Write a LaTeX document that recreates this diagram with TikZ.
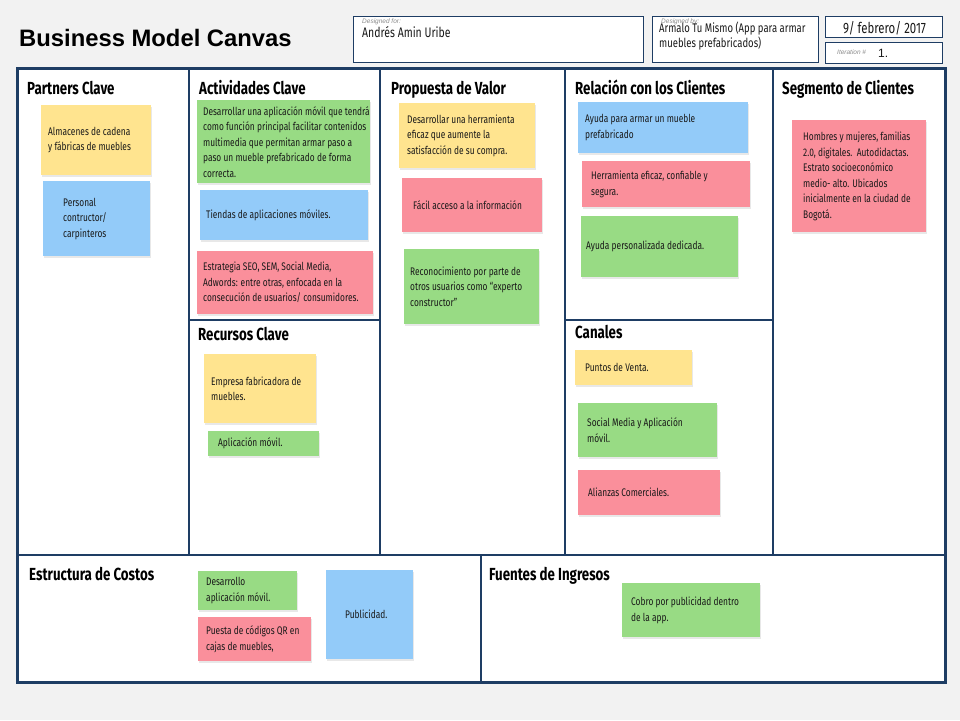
\documentclass[tikz,border=0pt]{standalone}
\usepackage{fontspec}
\usepackage{xcolor}
\usepackage{tikz}
\usetikzlibrary{shadows}
\newfontfamily\arialfont{Liberation Sans}
\newfontfamily\notefont{Fira Sans}[FakeStretch=0.76]
\newfontfamily\headfont{Fira Sans}[FakeStretch=0.76]
\definecolor{canvasblue}{HTML}{1E3D64}
\definecolor{pagegray}{HTML}{F2F2F2}
\definecolor{noteyellow}{HTML}{FFE48F}
\definecolor{noteblue}{HTML}{93CBF9}
\definecolor{notegreen}{HTML}{98DB84}
\definecolor{notered}{HTML}{FA8F9B}
\tikzset{
    sticky/.style={
        draw=none, inner sep=0pt,
        drop shadow={opacity=0.18, shadow xshift=0.6pt, shadow yshift=-1.4pt}
    },
    notetext/.style={
        font=\notefont\fontsize{11}{15.5}\selectfont,
        align=left, inner sep=0pt, text=black!90
    },
    cardtitle/.style={
        font=\headfont\bfseries\fontsize{17.5}{19}\selectfont,
        inner sep=0pt, anchor=base west
    },
    headbox/.style={draw=canvasblue, line width=0.9pt, fill=white},
    tinylabel/.style={
        font=\arialfont\itshape\fontsize{6.5}{7}\selectfont,
        text=black!45, inner sep=0pt, anchor=base west
    },
    canvasline/.style={draw=canvasblue, line width=1.8pt}
}
% one sticky note: name, colour, x, y, width, height, left padding, text
\newcommand\sticky[8]{%
    \node[sticky, fill=#2, minimum width=#5pt, minimum height=#6pt, anchor=north west] (#1) at (#3,#4) {};
    \node[notetext, anchor=west] (#1t) at ([xshift=#7pt]#1.west) {#8};
}

\begin{document}
\begin{tikzpicture}[x=1pt, y=-1pt]
\useasboundingbox[fill=pagegray] (0,0) rectangle (960,720);

% header
\node[font=\arialfont\bfseries\fontsize{23.8}{26}\selectfont, inner sep=0pt, anchor=base west] (bmc) at (19,46) {Business Model Canvas};
\draw[headbox] (353,16) rectangle (643,62);
\draw[headbox] (652,16) rectangle (818,62);
\draw[headbox] (825,16) rectangle (942,37);
\draw[headbox] (825,42) rectangle (942,63);
\node[tinylabel] (dfor) at (362,23) {Designed for:};
\node[notetext, font=\notefont\fontsize{13.8}{15}\selectfont, anchor=base west] (client) at (362,37) {Andrés Amin Uribe};
\node[tinylabel] (dby) at (661,23) {Designed by:};
\node[notetext, font=\notefont\fontsize{12.5}{15}\selectfont, anchor=north west] (maker) at (659,22) {Armalo Tu Mismo (App para armar\\muebles prefabricados)};
\node[notetext, font=\notefont\fontsize{15}{16}\selectfont, anchor=base west] (date) at (843,33) {9/ febrero/ 2017};
\node[tinylabel] (iter) at (837,54) {Iteration \#};
\node[notetext, font=\arialfont\fontsize{12}{13}\selectfont, anchor=base west] (itno) at (878,57) {1.};

% canvas
\fill[white] (17,68) rectangle (945,682);
\draw[canvasline] (189,68) -- (189,555);
\draw[canvasline] (380,68) -- (380,555);
\draw[canvasline] (565,68) -- (565,555);
\draw[canvasline] (773,68) -- (773,555);
\draw[canvasline] (189,320) -- (380,320);
\draw[canvasline] (565,320) -- (773,320);
\draw[canvasline] (17,555) -- (945,555);
\draw[canvasline] (481,555) -- (481,682);
\draw[draw=canvasblue, line width=3pt] (17,68) rectangle (945,682);

% block titles
\node[cardtitle] (tpk) at (27,94) {Partners Clave};
\node[cardtitle] (tak) at (199,94) {Actividades Clave};
\node[cardtitle] (trk) at (198,340) {Recursos Clave};
\node[cardtitle] (tpv) at (391,94) {Propuesta de Valor};
\node[cardtitle] (trc) at (575,94) {Relación con los Clientes};
\node[cardtitle] (tch) at (575,338) {Canales};
\node[cardtitle] (tsc) at (782,94) {Segmento de Clientes};
\node[cardtitle] (tec) at (29,580) {Estructura de Costos};
\node[cardtitle] (tfi) at (489,580) {Fuentes de Ingresos};

% notes
\sticky{pk1}{noteyellow}{41}{105}{110}{70}{7}{Almacenes de cadena\\y fábricas de muebles}
\sticky{pk2}{noteblue}{43}{181}{107}{75}{20}{Personal\\contructor/\\carpinteros}
\sticky{ak1}{notegreen}{197}{100}{173}{83}{6}{Desarrollar una aplicación móvil que tendrá\\como función principal facilitar contenidos\\multimedia que permitan armar paso a\\paso un mueble prefabricado de forma\\correcta.}
\sticky{ak2}{noteblue}{200}{190}{168}{50}{6}{Tiendas de aplicaciones móviles.}
\sticky{ak3}{notered}{197}{251}{176}{63}{6}{Estrategia SEO, SEM, Social Media,\\Adwords: entre otras, enfocada en la\\consecución de usuarios/ consumidores.}
\sticky{rk1}{noteyellow}{204}{354}{112}{69}{7}{Empresa fabricadora de\\muebles.}
\sticky{rk2}{notegreen}{208}{431}{111}{25}{10}{Aplicación móvil.}
\sticky{pv1}{noteyellow}{399}{103}{136}{65}{8}{Desarrollar una herramienta\\eficaz que aumente la\\satisfacción de su compra.}
\sticky{pv2}{notered}{402}{178}{140}{54}{11}{Fácil acceso a la información}
\sticky{pv3}{notegreen}{404}{249}{135}{75}{6}{Reconocimiento por parte de\\otros usuarios como “experto\\constructor”}
\sticky{rc1}{noteblue}{578}{102}{170}{51}{7}{Ayuda para armar un mueble\\prefabricado}
\sticky{rc2}{notered}{582}{161}{168}{46}{9}{Herramienta eficaz, confiable y\\segura.}
\sticky{rc3}{notegreen}{581}{216}{157}{61}{5}{Ayuda personalizada dedicada.}
\sticky{ch1}{noteyellow}{575}{350}{117}{35}{10}{Puntos de Venta.}
\sticky{ch2}{notegreen}{578}{403}{139}{54}{9}{Social Media y Aplicación\\móvil.}
\sticky{ch3}{notered}{578}{470}{142}{45}{10}{Alianzas Comerciales.}
\sticky{sc1}{notered}{792}{120}{134}{112}{11}{Hombres y mujeres, familias\\2.0, digitales.\ \ Autodidactas.\\Estrato socioeconómico\\medio- alto. Ubicados\\inicialmente en la ciudad de\\Bogotá.}
\sticky{ec1}{notegreen}{198}{571}{99}{39}{8}{Desarrollo\\aplicación móvil.}
\sticky{ec2}{notered}{198}{617}{113}{44}{8}{Puesta de códigos QR en\\cajas de muebles,}
\sticky{ec3}{noteblue}{326}{570}{87}{89}{19}{Publicidad.}
\sticky{fi1}{notegreen}{622}{583}{138}{54}{9}{Cobro por publicidad dentro\\de la app.}
\end{tikzpicture}
\end{document}
